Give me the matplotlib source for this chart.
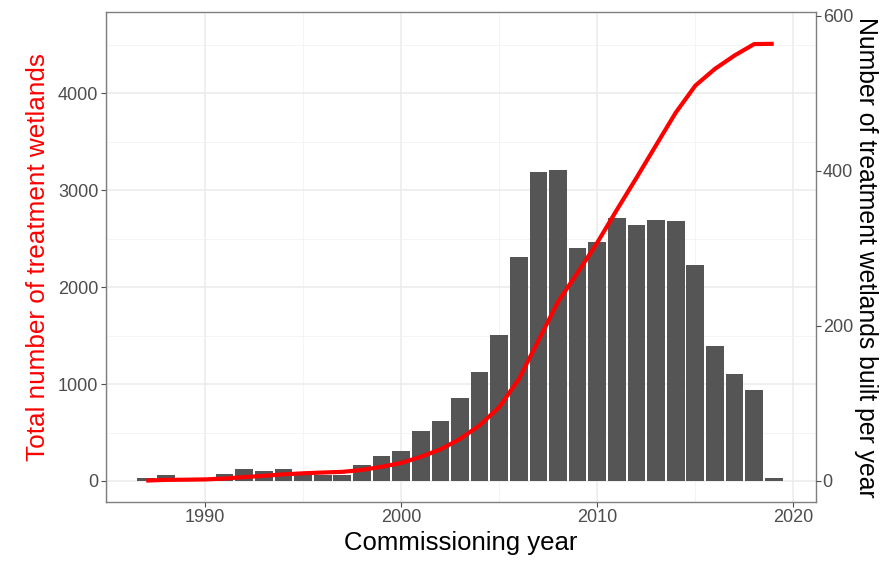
import matplotlib
matplotlib.use("Agg")
import matplotlib.pyplot as plt
from matplotlib.ticker import MultipleLocator

plt.rcParams['font.family'] = ['Liberation Sans', 'DejaVu Sans']

# ---- data ----
years = list(range(1987, 2020))
built_per_year = [3.5, 7.3, 2, 3, 8.7, 15.5, 12.9, 15.5, 10.8, 7.3, 7.3, 20.3,
                  32.3, 39.2, 63.8, 76.7, 107, 140.5, 188.8, 288.8, 397.9, 401.3,
                  300, 308.6, 338.8, 330.2, 336.6, 335.4, 278.5, 173.7, 138,
                  117.7, 3.5]
total_wetlands = [4, 11, 13, 16, 25, 40, 53, 68, 79, 87, 94, 114, 146, 186,
                  249, 326, 433, 574, 762, 1051, 1449, 1850, 2150, 2459, 2798,
                  3128, 3465, 3800, 4079, 4252, 4390, 4508, 4511]
x_ticks = [1990, 2000, 2010, 2020]
left_ticks = [0, 1000, 2000, 3000, 4000]
right_ticks = [0, 200, 400, 600]

# ---- styling ----
W, H, DPI = 8.85, 5.61, 100
fig = plt.figure(figsize=(W, H), dpi=DPI)
pos = [0.1198, 0.1057, 0.9217 - 0.1198, 0.9786 - 0.1057]
xlim = (1984.95, 2021.14)
ylim_left = (-214, 4839)
ratio = 8.0
ylim_right = (ylim_left[0] / ratio, ylim_left[1] / ratio)

tick_col = '#4D4D4D'
border_col = '#7F7F7F'
grid_col = '#EBEBEB'

# background axes: grid + left axis
ax_bg = fig.add_axes(pos)
ax_bg.set_xlim(*xlim)
ax_bg.set_ylim(*ylim_left)
ax_bg.set_xticks(x_ticks)
ax_bg.xaxis.set_minor_locator(MultipleLocator(5))
ax_bg.set_yticks(left_ticks)
ax_bg.yaxis.set_minor_locator(MultipleLocator(500))
ax_bg.grid(True, which='major', color=grid_col, linewidth=1.1)
ax_bg.grid(True, which='minor', color='#F2F2F2', linewidth=0.6)
ax_bg.set_axisbelow(True)
ax_bg.tick_params(axis='both', which='minor', length=0)
ax_bg.tick_params(axis='both', which='major', length=3.5, width=0.8,
                  color=tick_col, labelcolor=tick_col, labelsize=13, pad=2)
for s in ax_bg.spines.values():
    s.set_color(border_col)
    s.set_linewidth(1.0)
ax_bg.set_xlabel('Commissioning year', fontsize=18.5, color='black', labelpad=3)
ax_bg.set_ylabel('Total number of treatment wetlands', fontsize=18.8,
                 color='#FF0000', labelpad=6)

# bars axes: right axis
ax_bars = ax_bg.twinx()
ax_bars.patch.set_visible(False)
ax_bars.set_xlim(*xlim)
ax_bars.set_ylim(*ylim_right)
ax_bars.bar(years, built_per_year, width=0.9, color='#555555', linewidth=0, zorder=2)
ax_bars.set_yticks(right_ticks)
ax_bars.tick_params(axis='y', which='major', length=3.5, width=0.8,
                    color=tick_col, labelcolor=tick_col, labelsize=13, pad=1.5)
for s in ax_bars.spines.values():
    s.set_visible(False)
ax_bars.set_ylabel('Number of treatment wetlands built per year', fontsize=17.8,
                   color='black', rotation=270, labelpad=18)

# line axes on top
ax_line = ax_bg.twinx()
ax_line.patch.set_visible(False)
ax_line.set_xlim(*xlim)
ax_line.set_ylim(*ylim_left)
ax_line.plot(years, total_wetlands, color='#FF0000', linewidth=3.0,
             solid_capstyle='butt', solid_joinstyle='round')
ax_line.set_yticks([])
for s in ax_line.spines.values():
    s.set_visible(False)

fig.savefig('out.png', dpi=DPI)
